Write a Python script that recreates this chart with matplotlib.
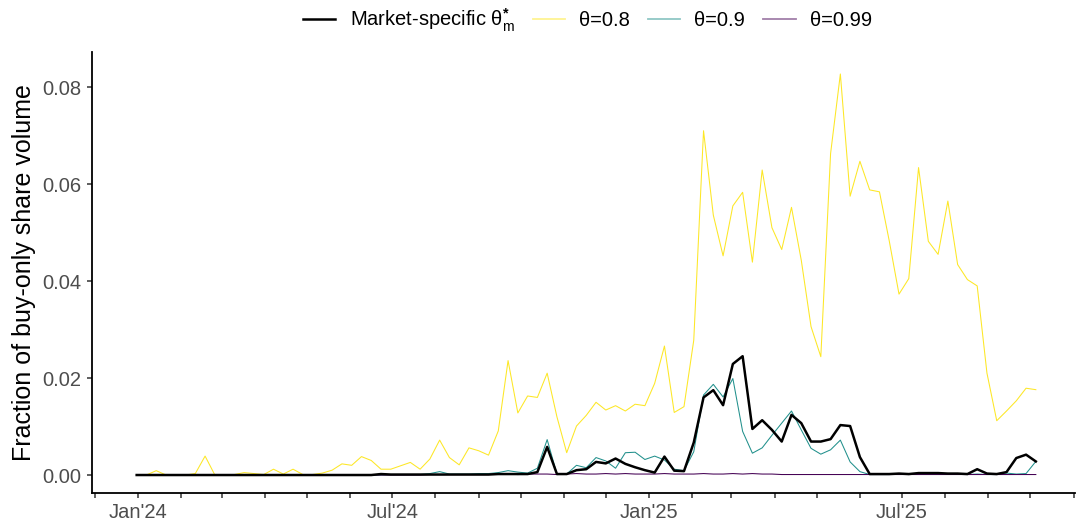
import pandas as pd
import matplotlib
matplotlib.use("Agg")
import matplotlib.pyplot as plt
import matplotlib.dates as mdates
from matplotlib.lines import Line2D

# weekly series, weeks starting Sunday 2023-12-31
week_start = "2023-12-31"
n_weeks = 93

market_specific = [
    0, 0, 0, 0, 0, 0, 0, 0, 0, 0,
    0, 0, 0, 0, 0, 0, 0, 0, 0, 0,
    0, 0, 0, 0, 0, 0.0002, 0.0001, 0.0001, 0.0001, 0.0001,
    0.0001, 0.0001, 0.0001, 0.0001, 0.0001, 0.0001, 0.0001, 0.0002, 0.0002, 0.0002,
    0.0002, 0.0006, 0.0058, 0.0002, 0.0002, 0.0010, 0.0012, 0.0027, 0.0024, 0.0034,
    0.0023, 0.0016, 0.0010, 0.0005, 0.0038, 0.0009, 0.0008, 0.0067, 0.0160, 0.0175,
    0.0144, 0.0229, 0.0245, 0.0095, 0.0113, 0.0093, 0.0069, 0.0124, 0.0107, 0.0069,
    0.0069, 0.0074, 0.0103, 0.0101, 0.0037, 0.0002, 0.0002, 0.0002, 0.0003, 0.0002,
    0.0004, 0.0004, 0.0004, 0.0003, 0.0003, 0.0002, 0.0012, 0.0003, 0.0002, 0.0006,
    0.0035, 0.0042, 0.0028,
]

theta_08 = [
    0, 0, 0.0009, 0, 0, 0, 0.0003, 0.0039, 0, 0,
    0.0001, 0.0005, 0.0003, 0.0001, 0.0012, 0.0002, 0.0012, 0.0001, 0.0001, 0.0004,
    0.0010, 0.0023, 0.0020, 0.0038, 0.0030, 0.0012, 0.0012, 0.0019, 0.0026, 0.0012,
    0.0033, 0.0072, 0.0036, 0.0021, 0.0056, 0.0050, 0.0041, 0.0091, 0.0236, 0.0128,
    0.0163, 0.0160, 0.0210, 0.0120, 0.0046, 0.0101, 0.0123, 0.0150, 0.0134, 0.0143,
    0.0132, 0.0146, 0.0143, 0.0189, 0.0266, 0.0129, 0.0141, 0.0278, 0.0710, 0.0536,
    0.0452, 0.0555, 0.0583, 0.0439, 0.0629, 0.0510, 0.0465, 0.0552, 0.0443, 0.0306,
    0.0244, 0.0663, 0.0827, 0.0575, 0.0647, 0.0588, 0.0584, 0.0483, 0.0373, 0.0405,
    0.0634, 0.0482, 0.0455, 0.0565, 0.0434, 0.0403, 0.0390, 0.0210, 0.0112, 0.0132,
    0.0153, 0.0179, 0.0176,
]

theta_09 = [
    0, 0, 0, 0, 0, 0, 0, 0, 0, 0,
    0, 0, 0, 0, 0, 0, 0, 0, 0, 0,
    0, 0, 0, 0, 0, 0, 0.0001, 0.0001, 0.0001, 0.0001,
    0.0003, 0.0007, 0.0002, 0.0002, 0.0002, 0.0003, 0.0003, 0.0005, 0.0009, 0.0006,
    0.0004, 0.0014, 0.0073, 0.0002, 0.0002, 0.0020, 0.0015, 0.0036, 0.0029, 0.0014,
    0.0046, 0.0047, 0.0032, 0.0039, 0.0031, 0.0012, 0.0009, 0.0048, 0.0165, 0.0187,
    0.0161, 0.0199, 0.0090, 0.0045, 0.0056, 0.0082, 0.0107, 0.0132, 0.0093, 0.0055,
    0.0043, 0.0052, 0.0072, 0.0027, 0.0007, 0.0001, 0.0001, 0.0001, 0.0002, 0.0001,
    0.0002, 0.0002, 0.0002, 0.0002, 0.0002, 0.0001, 0.0002, 0.0001, 0.0001, 0.0004,
    0.0002, 0.0003, 0.0028,
]

theta_099 = [
    0, 0, 0, 0, 0, 0, 0, 0, 0, 0,
    0, 0, 0, 0, 0, 0, 0, 0, 0, 0,
    0, 0, 0, 0, 0, 0, 0, 0, 0, 0,
    0.0001, 0.0001, 0.0001, 0.0001, 0.0001, 0.0001, 0.0001, 0.0002, 0.0002, 0.0001,
    0.0002, 0.0002, 0.0002, 0.0001, 0.0002, 0.0003, 0.0002, 0.0002, 0.0003, 0.0002,
    0.0003, 0.0002, 0.0002, 0.0002, 0.0003, 0.0002, 0.0002, 0.0002, 0.0003, 0.0002,
    0.0002, 0.0003, 0.0002, 0.0003, 0.0002, 0.0002, 0.0001, 0.0001, 0.0001, 0.0001,
    0.0001, 0.0001, 0.0001, 0.0001, 0.0001, 0.0001, 0.0001, 0.0001, 0.0001, 0.0001,
    0.0001, 0.0001, 0.0001, 0.0001, 0.0001, 0.0001, 0.0001, 0.0001, 0.0001, 0.0001,
    0.0001, 0.0001, 0.0001,
]

series_labels = [r"Market-specific θ$^{\mathbf{*}}_{m}$", "θ=0.8", "θ=0.9", "θ=0.99"]
series_colors = ["black", "#FDE725", "#21908C", "#440154"]
y_ticks = [0.00, 0.02, 0.04, 0.06, 0.08]
x_tick_dates = ["2024-01-01", "2024-07-01", "2025-01-01", "2025-07-01"]

plt.rcParams["font.family"] = ["Liberation Sans", "DejaVu Sans"]
plt.rcParams["mathtext.fontset"] = "custom"
plt.rcParams["mathtext.rm"] = "Liberation Sans"
plt.rcParams["mathtext.it"] = "Liberation Sans"
plt.rcParams["mathtext.bf"] = "Liberation Sans:bold"

dates = pd.date_range(week_start, periods=n_weeks, freq="7D")

fig = plt.figure(figsize=(10.76, 5.27), dpi=100)
ax = fig.add_axes([0.0855, 0.0645, 0.9135, 0.8365])

ax.plot(dates, theta_08, color=series_colors[1], lw=0.75, zorder=2)
ax.plot(dates, theta_09, color=series_colors[2], lw=0.75, zorder=3)
ax.plot(dates, theta_099, color=series_colors[3], lw=0.75, zorder=3)
ax.plot(dates, market_specific, color=series_colors[0], lw=1.8, zorder=4)

ax.set_ylim(-0.00371, 0.0872)
ax.set_xlim(pd.Timestamp("2023-11-29"), pd.Timestamp("2025-11-02"))
ax.set_yticks(y_ticks)
ax.set_yticklabels([f"{v:.2f}" for v in y_ticks])
ax.set_xticks(pd.to_datetime(x_tick_dates))
ax.xaxis.set_major_formatter(mdates.DateFormatter("%b'%y"))
ax.xaxis.set_minor_locator(mdates.MonthLocator())

for side in ("top", "right"):
    ax.spines[side].set_visible(False)
for side in ("left", "bottom"):
    ax.spines[side].set_linewidth(1.3)

ax.tick_params(which="both", length=3.5, width=1.1, color="#333333")
ax.tick_params(labelsize=14.5, labelcolor="#4D4D4D", pad=4)
ax.set_ylabel("Fraction of buy-only share volume", fontsize=18, labelpad=5)

# legend keys: black line solid, coloured keys drawn paler
handles = [Line2D([], [], color=series_colors[0], lw=1.8)]
handles += [Line2D([], [], color=c, lw=1.3, alpha=0.5) for c in series_colors[1:]]
fig.legend(handles, series_labels,
           loc="center", bbox_to_anchor=(0.546, 0.962), ncol=4, frameon=False,
           fontsize=14.5, handlelength=1.6, handletextpad=0.7, columnspacing=0.9)

fig.savefig("out.png", dpi=100)
